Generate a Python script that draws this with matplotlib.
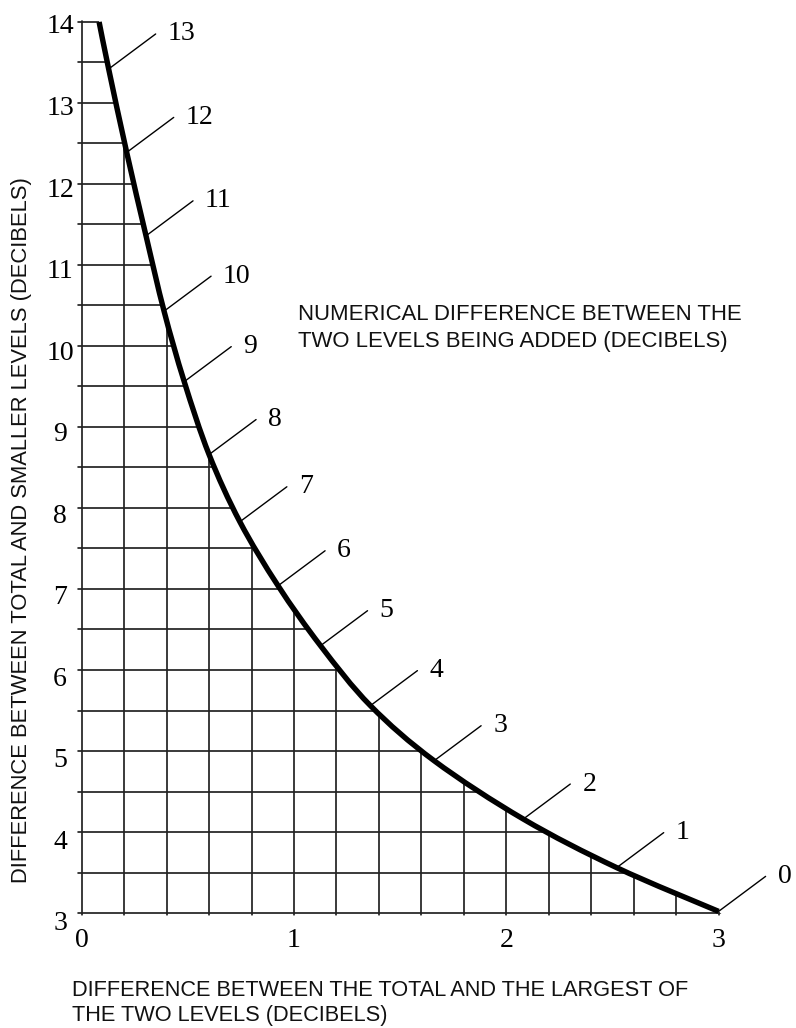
import numpy as np
import matplotlib
matplotlib.use("Agg")
import matplotlib.pyplot as plt
from matplotlib.collections import LineCollection
from matplotlib.patches import PathPatch
from matplotlib.path import Path
from matplotlib.transforms import ScaledTranslation

# ---- data ----
# curve: difference between total and largest level (x) vs total and smaller level (y)
# first point is the top end of the curve, the rest are the labelled points
curve_x = [0.082, 0.127, 0.212, 0.303, 0.388, 0.483, 0.600, 0.745, 0.925,
           1.125, 1.360, 1.660, 2.080, 2.520, 3.000]
curve_y = [14.00, 13.42, 12.39, 11.36, 10.43, 9.56, 8.66, 7.83, 7.04,
           6.30, 5.56, 4.88, 4.16, 3.56, 3.02]
# numerical difference between the two levels being added (labels of points 1..14)
level_diff = [13, 12, 11, 10, 9, 8, 7, 6, 5, 4, 3, 2, 1, 0]

x_ticks = [0, 1, 2, 3]
y_ticks = [3, 4, 5, 6, 7, 8, 9, 10, 11, 12, 13, 14]

x_title = ["DIFFERENCE BETWEEN THE TOTAL AND THE LARGEST OF",
           "THE TWO LEVELS (DECIBELS)"]
y_title = "DIFFERENCE BETWEEN TOTAL AND SMALLER LEVELS (DECIBELS)"
note = ["NUMERICAL DIFFERENCE BETWEEN THE",
        "TWO LEVELS BEING ADDED (DECIBELS)"]

SERIF = "Liberation Serif"
SANS = "Liberation Sans"
W, H = 796, 1028

fig = plt.figure(figsize=(W / 100, H / 100), dpi=100)
ax = fig.add_axes([81.7 / W, (H - 913) / H, 636.9 / W, 891 / H])
ax.set_xlim(0, 3)
ax.set_ylim(3, 14)
for s in ax.spines.values():
    s.set_visible(False)


def smooth_path_vertices(xs, ys):
    """Catmull-Rom style cubic Bezier path through the given points."""
    P = np.column_stack([xs, ys]).astype(float)
    n = len(P)
    verts = [tuple(P[0])]
    codes = [Path.MOVETO]
    for i in range(n - 1):
        p0 = P[i - 1] if i > 0 else P[i]
        p1 = P[i]
        p2 = P[i + 1]
        p3 = P[i + 2] if i + 2 < n else P[i + 1]
        c1 = p1 + (p2 - p0) / 6.0
        c2 = p2 - (p3 - p1) / 6.0
        verts += [tuple(c1), tuple(c2), tuple(p2)]
        codes += [Path.CURVE4] * 3
    return verts, codes


cverts, ccodes = smooth_path_vertices(curve_x, curve_y)

# ---- grid under the curve ----
gx = np.arange(0, 3.0001, 0.2)
gy = np.arange(3, 14.0001, 0.5)
segs = [[(x, 2.9), (x, 14.1)] for x in gx] + [[(-0.1, y), (3.1, y)] for y in gy]
lc = LineCollection(segs, colors="#222222", linewidths=1.25, zorder=1)
ax.add_collection(lc)
clip_verts = ([(-0.02, 14.02), (curve_x[0], 14.02)] + cverts
              + [(3.02, 2.97), (-0.02, 2.97), (-0.02, 14.02)])
clip_codes = ([Path.MOVETO, Path.LINETO] + [Path.LINETO] + ccodes[1:]
              + [Path.LINETO, Path.LINETO, Path.CLOSEPOLY])
clip_patch = PathPatch(Path(clip_verts, clip_codes), transform=ax.transData,
                       facecolor="none", edgecolor="none")
lc.set_clip_path(clip_patch)
lc.set_clip_box(None)

# ---- curve ----
curve = PathPatch(Path(cverts, ccodes), facecolor="none", edgecolor="black",
                  lw=3.9, capstyle="butt", joinstyle="round", zorder=3,
                  transform=ax.transData)
curve.set_clip_on(False)
ax.add_patch(curve)

# ---- leaders + labels ----
for d, x, y in zip(level_diff, curve_x[1:], curve_y[1:]):
    ax.annotate("", xy=(x, y), xytext=(47, 35), textcoords="offset pixels",
                arrowprops=dict(arrowstyle="-", lw=1.0, color="black",
                                shrinkA=0, shrinkB=0), zorder=2,
                annotation_clip=False)
    ax.annotate(str(d), xy=(x, y), xytext=(59, 35), textcoords="offset pixels",
                ha="left", va="center", fontsize=20, family=SERIF,
                annotation_clip=False)

# ---- ticks ----
ax.set_xticks(x_ticks)
ax.set_xticklabels([str(v) for v in x_ticks], family=SERIF, fontsize=20)
ax.set_yticks(y_ticks)
ax.set_yticklabels([str(v) for v in y_ticks], family=SERIF, fontsize=20,
                   ha="center")
ax.tick_params(axis="both", length=0)
ax.tick_params(axis="y", pad=15.6)
ax.tick_params(axis="x", pad=11)
for tick, v in zip(ax.yaxis.get_major_ticks(), y_ticks):
    off = (2 + 6 * (14 - v) / 11) / 100.0
    tick.label1.set_transform(tick.label1.get_transform()
                              + ScaledTranslation(0, -off, fig.dpi_scale_trans))

# ---- texts ----
fig.text(72 / W, (H - 996.5) / H, x_title[0], family=SANS, fontsize=15.65,
         ha="left", va="baseline", color="#111111")
fig.text(72 / W, (H - 1021.5) / H, x_title[1], family=SANS, fontsize=15.65,
         ha="left", va="baseline", color="#111111")
fig.text(22 / W, (H - 530.5) / H, y_title, family=SANS, fontsize=15.8,
         rotation=90, ha="center", va="center", color="#111111")
fig.text(298 / W, (H - 320.5) / H, note[0], family=SANS, fontsize=15.9,
         ha="left", va="baseline", color="#111111")
fig.text(298 / W, (H - 347) / H, note[1], family=SANS, fontsize=15.9,
         ha="left", va="baseline", color="#111111")

fig.savefig("out.png", dpi=100)
